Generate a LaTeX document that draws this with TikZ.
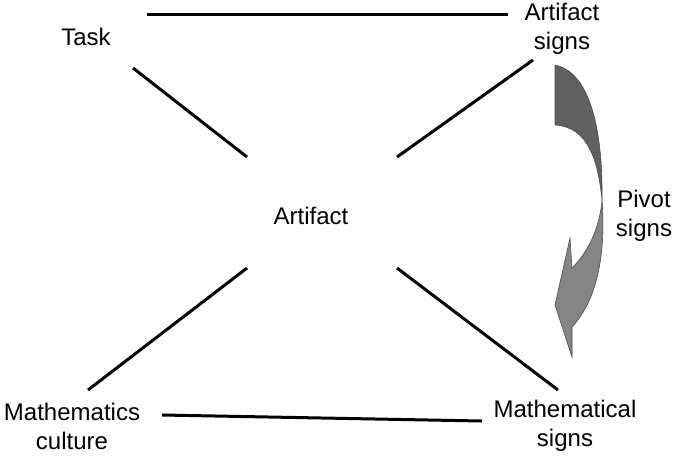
\documentclass[tikz,border=0pt]{standalone}
\usepackage{fontspec}
\setmainfont{Liberation Sans}
\begin{document}
\begin{tikzpicture}[x=1pt,y=-1pt,
  lbl/.style={font=\fontsize{24}{29}\selectfont,align=center,inner sep=0pt},
  edge/.style={line width=3pt}]
\useasboundingbox (0,0) rectangle (685,459);
\node[lbl] (task) at (86,37) {Task};
\node[lbl] (asig) at (562,29) {Artifact\\signs};
\node[lbl] (art) at (311,216) {Artifact};
\node[lbl] (piv) at (644,216) {Pivot\\signs};
\node[lbl] (mc) at (72,426) {Mathematics\\culture};
\node[lbl] (ms) at (565,426) {Mathematical\\signs};
\coordinate (t1) at (147,14); \coordinate (t2) at (508,14);
\coordinate (a1) at (133,68); \coordinate (a2) at (247,157);
\coordinate (b1) at (533,60); \coordinate (b2) at (397,157);
\coordinate (c1) at (247,268); \coordinate (c2) at (88,390);
\coordinate (d1) at (397,268); \coordinate (d2) at (558,390);
\coordinate (e1) at (162,415); \coordinate (e2) at (482,421);
\draw[edge] (t1)--(t2);
\draw[edge] (a1)--(a2);
\draw[edge] (b1)--(b2);
\draw[edge] (c1)--(c2);
\draw[edge] (d1)--(d2);
\draw[edge] (e1)--(e2);
\fill[fill=black!62,draw=black!70,line width=0.6pt]
  (555,65) .. controls (590,72) and (603,130) .. (602,200)
  .. controls (598,160) and (588,127) .. (555,125) -- cycle;
\fill[fill=black!48,draw=black!70,line width=0.6pt]
  (602,200) .. controls (606,255) and (597,300) .. (572,327)
  -- (572,357) -- (555,305) -- (570,238) -- (572,268)
  .. controls (590,250) and (600,225) .. (602,200) -- cycle;
\end{tikzpicture}
\end{document}
